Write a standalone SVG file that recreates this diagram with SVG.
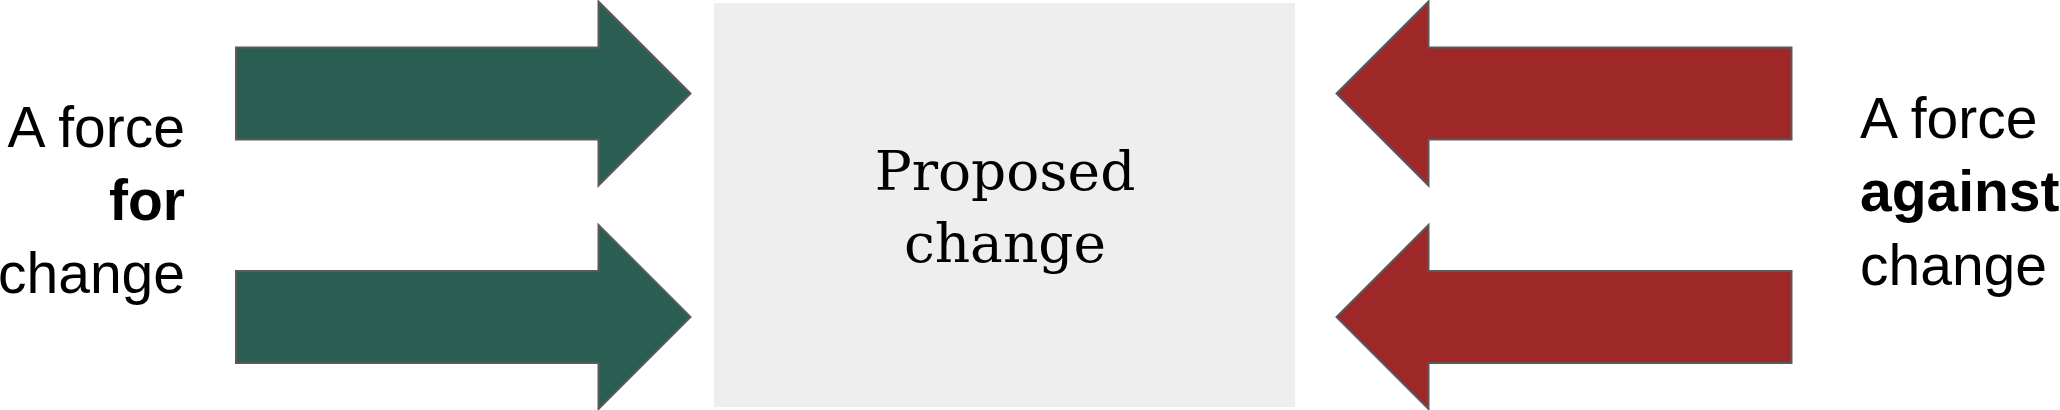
<svg xmlns="http://www.w3.org/2000/svg" width="2060" height="410" viewBox="0 0 2060 410">
<style>
.bg{fill:#ffffff}
.box{fill:#eeeeee}
.for{fill:#2b5e53;stroke:#5a5a5a;stroke-width:2;stroke-linejoin:miter}
.against{fill:#9e2728;stroke:#5a5a5a;stroke-width:2;stroke-linejoin:miter}
.lbl{font-family:"Liberation Sans",Arial,sans-serif;font-size:57px;fill:#000}
.b{font-weight:bold}
.center{font-family:"DejaVu Serif","Liberation Serif",serif;font-size:55px;fill:#000}
</style>
<rect class="bg" x="0" y="0" width="2060" height="410"/>
<g id="proposed-change">
<rect class="box" x="714" y="3" width="581" height="404"/>
<text class="center" x="1005" y="189.5" text-anchor="middle">Proposed</text>
<text class="center" x="1005" y="262" text-anchor="middle">change</text>
</g>
<g id="connectors">
<polygon class="for" points="236,47.5 598.5,47.5 598.5,1.5 690.5,93.5 598.5,185.5 598.5,139.5 236,139.5"/>
<polygon class="for" points="236,271 598.5,271 598.5,225 690.5,317 598.5,409 598.5,363 236,363"/>
<polygon class="against" points="1791.5,47.5 1428.5,47.5 1428.5,1.5 1336.5,93.5 1428.5,185.5 1428.5,139.5 1791.5,139.5"/>
<polygon class="against" points="1791.5,271 1428.5,271 1428.5,225 1336.5,317 1428.5,409 1428.5,363 1791.5,363"/>
</g>
<g id="force-for">
<text class="lbl" x="185" y="146.5" text-anchor="end">A force</text>
<text class="lbl b" x="185" y="220" text-anchor="end">for</text>
<text class="lbl" x="185" y="293" text-anchor="end">change</text>
</g>
<g id="force-against">
<text class="lbl" x="1860" y="137.5">A force</text>
<text class="lbl b" x="1860" y="211">against</text>
<text class="lbl" x="1860" y="285">change</text>
</g>
</svg>
